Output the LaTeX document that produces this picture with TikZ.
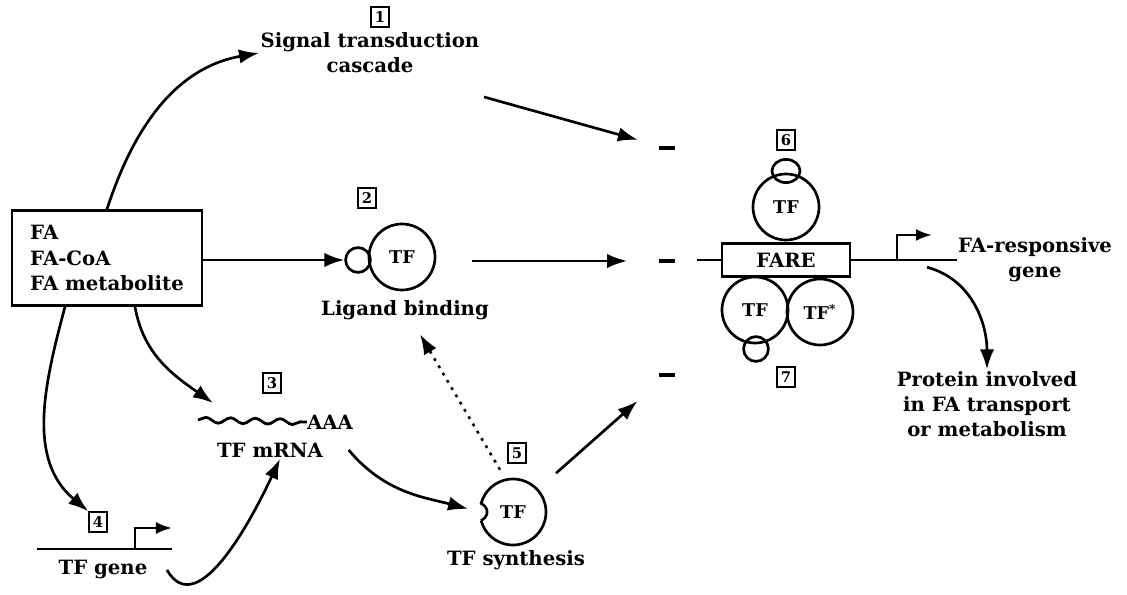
\documentclass[tikz,border=0pt]{standalone}
\usepackage{fontspec}
\setmainfont{DejaVu Serif}
\usetikzlibrary{arrows.meta,positioning,calc,shapes.geometric,decorations.pathmorphing}

\begin{document}
\begin{tikzpicture}[x=0.025cm,y=0.025cm,
  font=\bfseries\fontsize{14}{18}\selectfont,
  lbl/.style={align=center,inner sep=1pt},
  numbox/.style={draw,line width=1.1pt,inner sep=0pt,minimum width=0.45cm,
                 minimum height=0.5cm,font=\bfseries\fontsize{10.5}{12}\selectfont},
  tf/.style={circle,draw,line width=1.9pt,inner sep=0pt,minimum size=1.65cm,
             font=\bfseries\fontsize{12.5}{14}\selectfont},
  lig/.style={circle,draw,line width=1.9pt,inner sep=0pt,minimum size=0.62cm},
  dashmark/.style={fill=black,inner sep=0pt,minimum width=0.38cm,minimum height=0.1cm},
  arr/.style={-{Latex[length=5mm,width=3.6mm]},line width=1.9pt},
  sarr/.style={-{Latex[length=4mm,width=3mm]},line width=1.9pt},
  dna/.style={line width=2pt}]
  \useasboundingbox (0,0) rectangle (1127,594);
  % fatty acids
  \node[draw,line width=1.9pt,align=left,minimum width=4.75cm,minimum height=2.375cm]
    (fa) at (107,336) {FA\\FA-CoA\\FA metabolite};
  % 1: signalling
  \node[numbox] (n1) at (380,577) {1};
  \node[lbl] (sig) at (370,541) {Signal transduction\\cascade};
  \draw[arr] (fa.north) to[out=72,in=190] (sig.west);
  % 2: ligand binding
  \node[numbox] (n2) at (367,396) {2};
  \node[tf] (tf2) at (402,337) {TF};
  \node[lig] (lig2) at (358,334) {};
  \node[lbl] (ligbl) at (405,284) {Ligand binding};
  \draw[arr] (fa.east |- lig2) -- (lig2.west);
  % 3: mRNA
  \node[numbox] (n3) at (272,211) {3};
  \node[inner sep=0pt] (aaa) at (330,172) {AAA};
  \coordinate (m0) at (198,174);
  \draw[dna,decorate,decoration={snake,amplitude=0.07cm,segment length=0.62cm}]
    (m0) -- (aaa.west);
  \node[lbl] (mlbl) at (270,144) {TF mRNA};
  \coordinate (mtip) at (213,191);
  \draw[arr] ([xshift=0.7cm]fa.south) to[out=-80,in=145] (mtip);
  % 4: TF gene
  \node[numbox] (n4) at (98,72) {4};
  \coordinate (g4) at (37,45);
  \coordinate (p4) at (135,45);
  \draw[dna] (g4) -- ++(135,0);
  \draw[sarr] (p4) |- ++(37,21);
  \node[lbl] (gl4) at (103,24) {TF gene};
  \draw[arr] ([xshift=-1.05cm]fa.south) to[out=-105,in=140] (n4.north west);
  \draw[arr] ([xshift=0.45cm]gl4.east) to[out=-60,in=-115] ([xshift=0.25cm]mlbl.south);
  % 5: synthesis
  \node[numbox] (n5) at (517,141) {5};
  \node[circle,inner sep=0pt,minimum size=1.65cm,
        font=\bfseries\fontsize{12.5}{14}\selectfont] (tf5) at (513,82) {TF};
  \draw[line width=1.9pt] ($(tf5)+(195:33)$) arc[start angle=195,end angle=525,radius=33]
    .. controls +(8,-4) and +(8,4) .. ($(tf5)+(195:33)$);
  \node[lbl] (tsl) at (516,34) {TF synthesis};
  \draw[arr,shorten >=0.3cm] ([xshift=0.6cm]mlbl.east) to[out=-50,in=165] (tf5.west);
  \draw[arr,line width=1.8pt,dash pattern=on 2pt off 4pt] ([shift={(-13,9)}]tf5.north)
    -- ([shift={(15,-13)}]ligbl.south);
  % dashes
  \foreach \n/\y in {1/446,2/333,3/219}
    \node[dashmark] (d\n) at (667,\y) {};
  \draw[arr,shorten >=0.55cm] ([shift={(3,-22)}]sig.south east) -- (d1);
  \draw[arr,shorten >=0.8cm] ([xshift=0.9cm]tf2.east |- d2) -- (d2);
  \draw[arr,shorten >=0.9cm] ($(tf5)+(42:58)$) -- (d3);
  % FARE complex
  \node[draw,line width=1.9pt,minimum width=3.2cm,minimum height=0.82cm,inner sep=0pt]
    (fare) at (786,334) {FARE};
  \coordinate (dl) at (697,334);
  \coordinate (dr) at (957,334);
  \draw[dna] (dl) -- (fare.west);
  \draw[dna] (fare.east) -- (dr);
  \node[tf] (tf6) at (786,387) {TF};
  \node[ellipse,draw,line width=1.9pt,minimum width=0.7cm,minimum height=0.58cm,
        inner sep=0pt] (cap6) at (786,423) {};
  \node[numbox] (n6) at (786,454) {6};
  \node[tf] (tf7a) at (755,284) {TF};
  \node[tf] (tf7b) at (820,282) {TF\textsuperscript{*}};
  \node[lig] (lig7) at (756,245) {};
  \node[numbox] (n7) at (786,217) {7};
  % responsive gene
  \coordinate (p8) at (897,334);
  \draw[sarr] (p8) |- ++(35,25);
  \node[lbl] (fag) at (1035,334) {FA-responsive\\gene};
  \node[lbl] (prot) at (987,190) {Protein involved\\in FA transport\\or metabolism};
  \coordinate (fg) at (927,334);
  \draw[arr] ([yshift=-0.18cm]fg) to[out=-15,in=90] (prot.north);
\end{tikzpicture}
\end{document}
